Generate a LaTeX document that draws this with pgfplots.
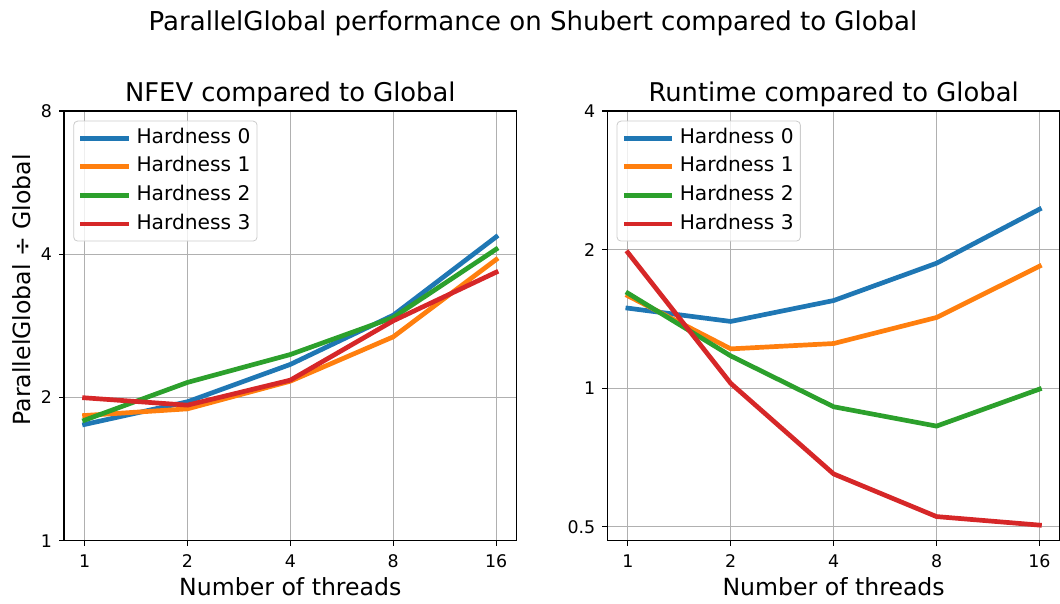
\documentclass[border=0pt]{standalone}
\usepackage{pgfplots}
\pgfplotsset{compat=1.18}
\usepackage{fontspec}
\setmainfont{DejaVu Sans}
\definecolor{c0}{HTML}{1F77B4}
\definecolor{c1}{HTML}{FF7F0E}
\definecolor{c2}{HTML}{2CA02C}
\definecolor{c3}{HTML}{D62728}
\definecolor{gridc}{HTML}{B0B0B0}
\pgfplotsset{
  every axis title shift=0pt,
  every axis/.append style={
    width=226.35pt, height=214.85pt, scale only axis,
    xmin=0.8706, xmax=18.379,
    grid=major, major grid style={gridc, line width=0.5pt},
    axis line style={black, line width=0.6pt},
    tick style={black, line width=0.6pt},
    tick align=outside, major tick length=2.5pt,
    xtick pos=bottom, ytick pos=left,
    /pgf/number format/assume math mode=true,
    ticklabel style={font=\fontsize{8.7}{10}\selectfont},
    xticklabel style={yshift=-1pt},
    title style={font=\fontsize{12.9}{15}\selectfont, at={(axis description cs:0.5,1)}, anchor=base, yshift=4.5pt},
    xlabel style={font=\fontsize{11.8}{14}\selectfont, at={(axis description cs:0.5,0)}, anchor=base, yshift=-27.5pt},
    legend cell align=left,
    legend style={at={(axis description cs:0,1)}, anchor=north west, xshift=4.65pt, yshift=-4.85pt,
      draw=black!20, fill=white, fill opacity=0.8, text opacity=1, rounded corners=2pt,
      font=\fontsize{10.1}{11}\selectfont,
      inner xsep=3.35pt, inner ysep=1.4pt, row sep=0pt,
      nodes={inner xsep=0pt, inner ysep=2.55pt, text height=7.2pt, text depth=2pt},
      /tikz/every odd column/.append style={column sep=4pt}},
  },
  legend image code/.code={\draw[#1] (0pt,0pt) -- (21.7pt,0pt);},
  every axis plot/.append style={line width=2.35pt, line join=round, line cap=rect},
}
\begin{document}
\begin{tikzpicture}
\useasboundingbox (0,0) rectangle (530pt,302pt);
\node[anchor=base, font=\fontsize{13}{15}\selectfont] at (266.5pt,286.5pt) {ParallelGlobal performance on Shubert compared to Global};
\begin{axis}[at={(32pt,31.65pt)}, anchor=south west,
  xmode=log, ymode=log, log basis x=2, log basis y=2,
  xtick={1,2,4,8,16}, xticklabels={1,2,4,8,16},
  ymin=1, ymax=8, ytick={1,2,4,8}, yticklabels={1,2,4,8},
  title={NFEV compared to Global},
  xlabel={Number of threads},
  ylabel={ParallelGlobal ÷ Global},
  ylabel style={font=\fontsize{11.8}{14}\selectfont, at={(axis description cs:-0.0927,0.584)}, anchor=center},
]
\addplot[c0] coordinates {(1,1.755)(2,1.959)(4,2.347)(8,2.978)(16,4.35)};
\addlegendentry{Hardness 0}
\addplot[c1] coordinates {(1,1.833)(2,1.893)(4,2.164)(8,2.682)(16,3.899)};
\addlegendentry{Hardness 1}
\addplot[c2] coordinates {(1,1.792)(2,2.151)(4,2.462)(8,2.945)(16,4.098)};
\addlegendentry{Hardness 2}
\addplot[c3] coordinates {(1,1.997)(2,1.927)(4,2.175)(8,2.898)(16,3.667)};
\addlegendentry{Hardness 3}
\end{axis}
\begin{axis}[at={(303.65pt,31.65pt)}, anchor=south west,
  xmode=log, ymode=log, log basis x=2, log basis y=2,
  xtick={1,2,4,8,16}, xticklabels={1,2,4,8,16},
  ymin=0.4662, ymax=4, ytick={0.5,1,2,4}, yticklabels={0.5,1,2,4},
  title={Runtime compared to Global},
  xlabel={Number of threads},
]
\addplot[c0] coordinates {(1,1.492)(2,1.396)(4,1.550)(8,1.868)(16,2.447)};
\addlegendentry{Hardness 0}
\addplot[c1] coordinates {(1,1.587)(2,1.217)(4,1.250)(8,1.424)(16,1.840)};
\addlegendentry{Hardness 1}
\addplot[c2] coordinates {(1,1.608)(2,1.175)(4,0.911)(8,0.827)(16,0.995)};
\addlegendentry{Hardness 2}
\addplot[c3] coordinates {(1,1.970)(2,1.024)(4,0.651)(8,0.526)(16,0.504)};
\addlegendentry{Hardness 3}
\end{axis}
\end{tikzpicture}
\end{document}
